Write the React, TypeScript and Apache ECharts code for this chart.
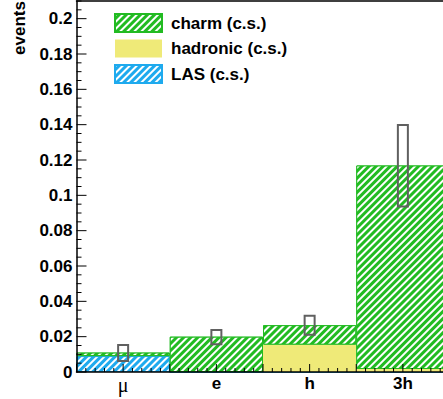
import React, { useEffect, useRef } from 'react';
import * as echarts from 'echarts';

const categories = ['μ', 'e', 'h', '3h'];
const lasValues = [0.009, 0, 0, 0];
const hadronicValues = [0, 0, 0.0155, 0.0017];
const charmValues = [0.002, 0.02, 0.011, 0.1152];
const dataLow = [0.0062, 0.0157, 0.0211, 0.0937];
const dataHigh = [0.0153, 0.0238, 0.0319, 0.1398];
const seriesNames = ['charm (c.s.)', 'hadronic (c.s.)', 'LAS (c.s.)'];

const X_MAX = 4;
const X_MAJOR = 0.5;
const X_MINOR_SPLIT = 5;
const Y_MAX = 0.21;
const Y_MAJOR = 0.02;
const Y_MINOR_SPLIT = 4;

const GREEN = '#22bb22';
const YELLOW = '#efea78';
const BLUE = '#1eaaee';
const FONT = '"Liberation Sans", Arial, sans-serif';

const stripeDecal = {
  symbol: 'rect',
  symbolSize: 1,
  color: '#ffffff',
  dashArrayX: [1, 0],
  dashArrayY: [2, 3],
  rotation: -Math.PI / 4,
};

export default function App() {
  const ref = useRef<HTMLDivElement>(null);
  useEffect(() => {
    document.body.style.margin = '0';
    const chart = echarts.init(ref.current!, null, { renderer: 'svg' });
    const isMajor = (v: number) => Math.abs(v / Y_MAJOR - Math.round(v / Y_MAJOR)) < 1e-6;
    chart.setOption({
      animation: false,
      backgroundColor: '#fff',
      grid: { left: 76.5, top: 1, width: 373, height: 371, outerBoundsMode: 'none', containLabel: false, show: false },
      legend: {
        data: seriesNames,
        orient: 'vertical',
        left: 114,
        top: 13,
        padding: 0,
        icon: 'rect',
        itemWidth: 47,
        itemHeight: 18,
        itemGap: 6.5,
        textStyle: { fontFamily: FONT, fontWeight: 'bold', fontSize: 17, color: '#000', padding: [0, 0, 0, 4] },
      },
      xAxis: [
        {
          type: 'category',
          data: categories,
          position: 'bottom',
          axisLine: { show: false },
          axisTick: { show: false },
          splitLine: { show: false },
          axisLabel: {
            margin: 3,
            formatter: (v: string) => (v === 'μ' ? '{mu|μ}' : '{b|' + v + '}'),
            rich: {
              mu: { fontFamily: '"Liberation Serif", serif', fontSize: 20, color: '#000' },
              b: { fontFamily: FONT, fontWeight: 'bold', fontSize: 17, color: '#000' },
            },
          },
        },
        {
          type: 'value',
          min: 0,
          max: X_MAX,
          interval: X_MAJOR,
          position: 'bottom',
          z: 20,
          axisLine: { show: true, onZero: false, lineStyle: { color: '#000', width: 1.5 } },
          axisTick: { show: false },
          axisLabel: { show: false },
          splitLine: { show: false },
        },
        {
          type: 'value',
          min: 0,
          max: X_MAX,
          position: 'top',
          z: 20,
          axisLine: { show: true, onZero: false, lineStyle: { color: '#000', width: 1.5 } },
          axisTick: { show: false },
          axisLabel: { show: false },
          splitLine: { show: false },
        },
      ],
      yAxis: {
        type: 'value',
        min: 0,
        max: Y_MAX,
        interval: Y_MAJOR,
        z: 20,
        axisLine: { show: true, lineStyle: { color: '#000', width: 1.5 } },
        axisTick: { show: false },
        splitLine: { show: false },
        axisLabel: {
          margin: 4,
          fontFamily: FONT,
          fontWeight: 'bold',
          fontSize: 17,
          color: '#000',
          formatter: (v: number) => (isMajor(v) ? String(Math.round(v * 100) / 100) : ''),
        },
      },
      series: [
        {
          name: 'LAS (c.s.)',
          type: 'bar',
          stack: 'mc',
          barWidth: '100%',
          data: lasValues,
          itemStyle: { color: BLUE, borderColor: BLUE, borderWidth: 1, decal: stripeDecal },
        },
        {
          name: 'hadronic (c.s.)',
          type: 'bar',
          stack: 'mc',
          barWidth: '100%',
          data: hadronicValues,
          itemStyle: { color: YELLOW, borderWidth: 0 },
        },
        {
          name: 'charm (c.s.)',
          type: 'bar',
          stack: 'mc',
          barWidth: '100%',
          data: charmValues,
          itemStyle: { color: GREEN, borderColor: GREEN, borderWidth: 1, decal: stripeDecal },
        },
        {
          type: 'custom',
          z: 10,
          data: categories.map((_, i) => [i, dataLow[i], dataHigh[i]]),
          renderItem: (params: any, api: any) => {
            const lo = api.coord([api.value(0), api.value(1)]);
            const hi = api.coord([api.value(0), api.value(2)]);
            return {
              type: 'rect',
              shape: { x: lo[0] - 5, y: hi[1], width: 10, height: lo[1] - hi[1] },
              style: { fill: 'none', stroke: '#606060', lineWidth: 2 },
            };
          },
        },
      ],
    });

    // Axis ticks pointing inward (ROOT style), placed through the axes' own scales.
    const x0 = chart.convertToPixel({ xAxisIndex: 1 }, 0) as number;
    const yBase = chart.convertToPixel({ yAxisIndex: 0 }, 0) as number;
    const tickEls: any[] = [];
    const xStep = X_MAJOR / X_MINOR_SPLIT;
    for (let i = 0; i * xStep <= X_MAX + 1e-9; i++) {
      const px = chart.convertToPixel({ xAxisIndex: 1 }, i * xStep) as number;
      const len = i % X_MINOR_SPLIT === 0 ? 8 : 4;
      tickEls.push({
        type: 'line',
        z: 100,
        silent: true,
        shape: { x1: px, y1: yBase, x2: px, y2: yBase - len },
        style: { stroke: '#000', lineWidth: 1 },
      });
    }
    const yStep = Y_MAJOR / Y_MINOR_SPLIT;
    for (let i = 0; i * yStep <= Y_MAX + 1e-9; i++) {
      const py = chart.convertToPixel({ yAxisIndex: 0 }, i * yStep) as number;
      const len = i % Y_MINOR_SPLIT === 0 ? 10 : 5;
      tickEls.push({
        type: 'line',
        z: 100,
        silent: true,
        shape: { x1: x0, y1: py, x2: x0 + len, y2: py },
        style: { stroke: '#000', lineWidth: 1 },
      });
    }
    chart.setOption({
      graphic: [
        {
          type: 'text',
          x: 19,
          y: 1,
          rotation: Math.PI / 2,
          style: { text: 'events', font: `bold 17px ${FONT}`, fill: '#000', align: 'right', verticalAlign: 'middle' },
        },
        ...tickEls,
      ],
    });
    return () => chart.dispose();
  }, []);
  return <div ref={ref} style={{ position: 'fixed', left: 0, top: 0, width: 443, height: 399 }} />;
}
